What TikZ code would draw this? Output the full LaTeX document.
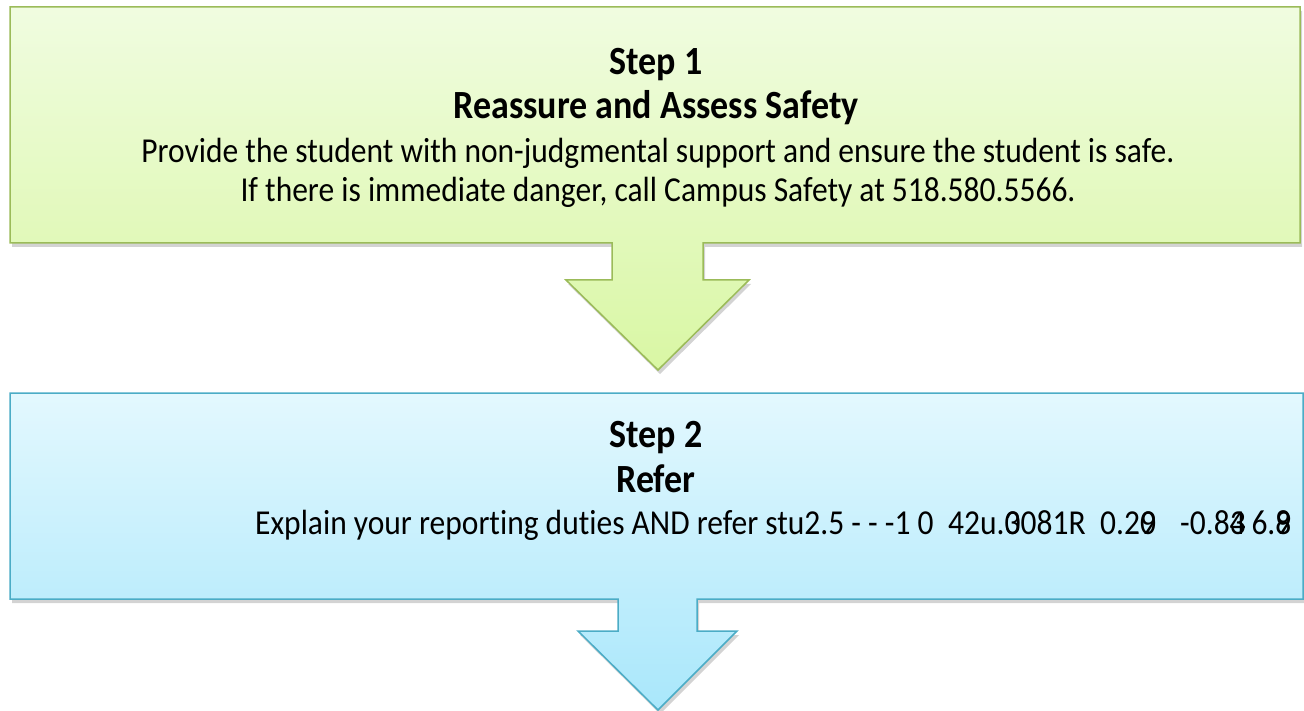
\documentclass[tikz,border=0pt]{standalone}
\usepackage{fontspec}
\setmainfont{Carlito}[FakeStretch=0.9, Ligatures={NoCommon}]
\usetikzlibrary{shadows}
\definecolor{gline}{HTML}{9BBB59}
\definecolor{gtop}{HTML}{F0FCE0}
\definecolor{gbot}{HTML}{D9F7A4}
\definecolor{bline}{HTML}{4BACC6}
\definecolor{btop}{HTML}{E3F8FE}
\definecolor{bbot}{HTML}{A9E7FB}
\tikzset{
  greenshape/.style={draw=gline, line width=1.5pt, top color=gtop, bottom color=gbot,
    drop shadow={opacity=0.35, shadow xshift=2pt, shadow yshift=-4pt}},
  blueshape/.style={draw=bline, line width=1.5pt, top color=btop, bottom color=bbot,
    drop shadow={opacity=0.35, shadow xshift=2pt, shadow yshift=-4pt}},
  txt/.style={anchor=base, inner sep=0pt, font=\fontsize{35}{40}\selectfont},
  txtw/.style={txt, anchor=base west},
  ttl/.style={txt, font=\fontsize{40}{46}\selectfont\bfseries},
}
\begin{document}
\begin{tikzpicture}[x=1pt, y=-1pt]
\useasboundingbox (0,0) rectangle (1304,711);
% step 1 box with arrow
\path[greenshape] (10,7) -- (1300,7) -- (1300,243) -- (703,243) -- (703,280) -- (749,280)
  -- (658,370) -- (566,280) -- (612,280) -- (612,243) -- (10,243) -- cycle;
% step 2 box with arrow
\path[blueshape] (10,393) -- (1303,393) -- (1303,599) -- (697,599) -- (697,631) -- (737,631)
  -- (658,710) -- (578,631) -- (618,631) -- (618,599) -- (10,599) -- cycle;
\node[ttl] (s1) at (656,75) {Step 1};
\node[ttl] (s1t) at (656,119) {Reassure and Assess Safety};
\node[txt] (s1a) at (658,163) {Provide the student with non-judgmental support and ensure the student is safe.};
\node[txt] (s1b) at (658,202) {If there is immediate danger, call Campus Safety at 518.580.5566.};
\node[ttl] (s2) at (656,447) {Step 2};
\node[ttl] (s2t) at (656,492) {Refer};
\node[txtw] (s2a) at (255,534) {Explain your reporting duties AND refer stu2.5 - - -1 0};
\node[txtw] (s2b) at (948,534) {42u.\rlap{3}0081R};
\node[txtw] (s2c) at (1100,534) {0.2\rlap{9}0};
\node[txtw] (s2d) at (1180,534) {-0.8\rlap{4}3\,6.\rlap{8}9};
\end{tikzpicture}
\end{document}
